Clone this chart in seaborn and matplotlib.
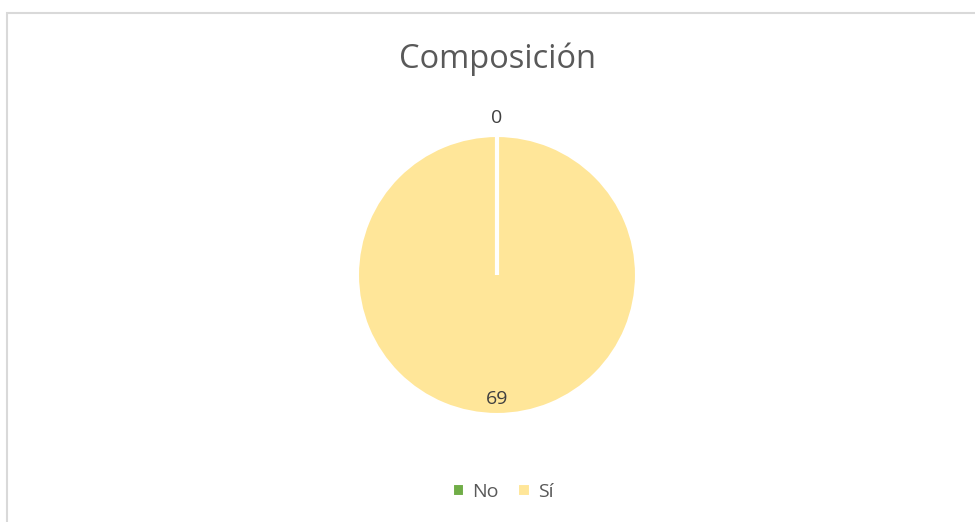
import matplotlib.pyplot as plt
import seaborn as sns
import numpy as np
from matplotlib.patches import Rectangle

# Data
categories = ['No', 'Sí']
values = [0, 69]
colors = ['#70AD47', '#FFE699']
title = 'Composición'

sns.set_theme(style='white')
plt.rcParams['font.family'] = ['Open Sans', 'DejaVu Sans']

W, H = 975, 522
fig = plt.figure(figsize=(W / 100, H / 100), dpi=100)

# chart frame (light gray, cut off at right and bottom like the original)
fig.patches.append(Rectangle((7 / W, -0.05), 1.2, (H - 13) / H + 0.05,
                             transform=fig.transFigure, fill=False,
                             edgecolor='#D9D9D9', linewidth=1.5))

# pie axes: centre at (497, 275) px, radius ~139 px
cx, cy, r = 497, 275, 139
half = 200
ax = fig.add_axes([(cx - half) / W, (H - cy - half) / H, 2 * half / W, 2 * half / H])

wedges, _ = ax.pie(values, colors=colors, startangle=90, counterclock=False,
                   radius=1, wedgeprops=dict(edgecolor='white', linewidth=1.5))

lim = half / r
ax.set_xlim(-lim, lim)
ax.set_ylim(-lim, lim)
ax.set_aspect('equal')
ax.axis('off')

# separator line where the empty slice sits (full wedges drop their radial edges)
for w, v in zip(wedges, values):
    if v == 0:
        a = np.deg2rad(w.theta1)
        ax.plot([w.center[0], w.center[0] + w.r * np.cos(a)],
                [w.center[1], w.center[1] + w.r * np.sin(a)],
                color='white', linewidth=3, solid_capstyle='butt', zorder=5)

# value labels
for w, v in zip(wedges, values):
    mid = np.deg2rad((w.theta1 + w.theta2) / 2)
    dist = 1.13 if v == 0 else 0.89
    ax.text(dist * np.cos(mid), dist * np.sin(mid), str(v), ha='center', va='center',
            fontsize=14, color='#404040')

fig.text(cx / W, 1 - 59 / H, title, ha='center', va='center', fontsize=23.5, color='#595959')

leg = fig.legend(wedges, categories, loc='center', bbox_to_anchor=(503 / W, 1 - 492 / H),
                 ncol=2, frameon=False, fontsize=14, handlelength=0.6, handleheight=0.6,
                 handletextpad=0.4, columnspacing=1.0, labelcolor='#595959')

fig.savefig('out.png', dpi=100, facecolor='white')
